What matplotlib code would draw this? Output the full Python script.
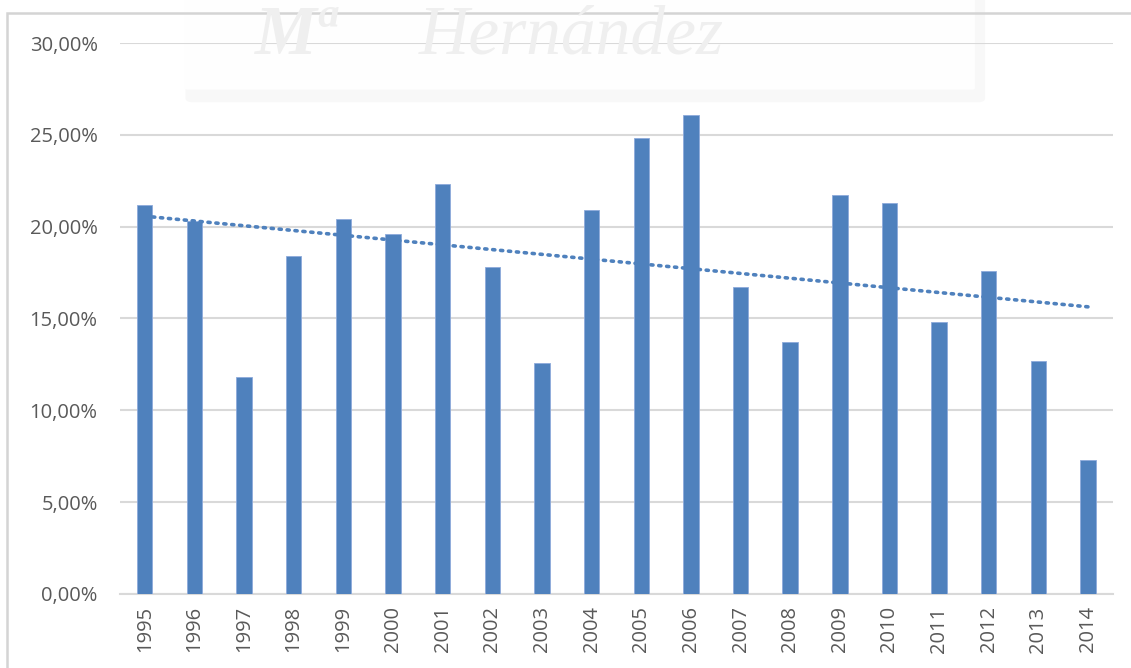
import matplotlib
matplotlib.use('Agg')
import matplotlib.pyplot as plt
import numpy as np
from matplotlib.patches import FancyBboxPatch
from matplotlib.ticker import FuncFormatter

years = ['1995', '1996', '1997', '1998', '1999', '2000', '2001', '2002', '2003', '2004',
         '2005', '2006', '2007', '2008', '2009', '2010', '2011', '2012', '2013', '2014']
values = [21.2, 20.3, 11.8, 18.4, 20.4, 19.6, 22.3, 17.8, 12.6, 20.9,
          24.8, 26.1, 16.7, 13.7, 21.7, 21.3, 14.8, 17.6, 12.7, 7.3]

bar_color = '#4F81BD'
grid_color = '#D9D9D9'
text_color = '#595959'

plt.rcParams['font.family'] = ['Open Sans', 'DejaVu Sans']

fig = plt.figure(figsize=(11.31, 6.68), dpi=100)
fig.patch.set_facecolor('white')

# marco gris de la imagen
frame = plt.Rectangle((0.0065, -0.1), 1.1, 1.0805, transform=fig.transFigure,
                      fill=False, edgecolor='#D4D4D4', linewidth=1.8)
fig.add_artist(frame)

# marca de agua (sombra + caja + texto)
shadow = FancyBboxPatch((0.17, 0.853), 0.695, 0.15, transform=fig.transFigure,
                        boxstyle='round,pad=0.006', facecolor='#F8F8F8',
                        edgecolor='none', zorder=0)
fig.add_artist(shadow)
wm_box = FancyBboxPatch((0.165, 0.868), 0.695, 0.14, transform=fig.transFigure,
                        boxstyle='round,pad=0.002', facecolor='#FEFEFE',
                        edgecolor='none', zorder=0)
fig.add_artist(wm_box)
fig.text(0.225, 0.945, 'Mª', fontsize=50, color='#EFEFEF', style='italic',
         fontweight='bold', family='Liberation Serif', ha='left', va='center')
fig.text(0.37, 0.945, 'Hernández', fontsize=50, color='#EFEFEF', style='italic',
         family='Liberation Serif', ha='left', va='center')

ax = fig.add_axes([0.106, 0.111, 0.878, 0.8246])
ax.set_facecolor('none')

x = np.arange(len(years))
y = np.array(values) / 100

ax.bar(x, y, width=0.31, color=bar_color, edgecolor='#8EAADB', linewidth=0.6, zorder=3)

# línea de tendencia lineal
k, b = np.polyfit(x, y, 1)
ax.plot(x, k * x + b, color=bar_color, linestyle=(0, (0.6, 1.6)), linewidth=2.6,
        dash_capstyle='round', zorder=4)

ax.set_xlim(-0.5, len(years) - 0.5)
ax.set_ylim(0, 0.30)
ax.set_yticks(np.arange(0, 0.301, 0.05))
ax.yaxis.set_major_formatter(FuncFormatter(lambda v, p: f'{v * 100:.2f}%'.replace('.', ',')))
ax.set_xticks(x)
ax.set_xticklabels(years, rotation=90)

ax.grid(axis='y', color=grid_color, linewidth=1.5, zorder=0)
ax.set_axisbelow(True)
for side in ['top', 'right', 'left']:
    ax.spines[side].set_visible(False)
ax.spines['bottom'].set_color(grid_color)
ax.spines['bottom'].set_linewidth(1.5)

ax.tick_params(axis='both', length=0, labelsize=14.5, labelcolor=text_color)
ax.tick_params(axis='y', pad=16)
ax.tick_params(axis='x', pad=9)

plt.savefig('out.png', dpi=100)
plt.close('all')
